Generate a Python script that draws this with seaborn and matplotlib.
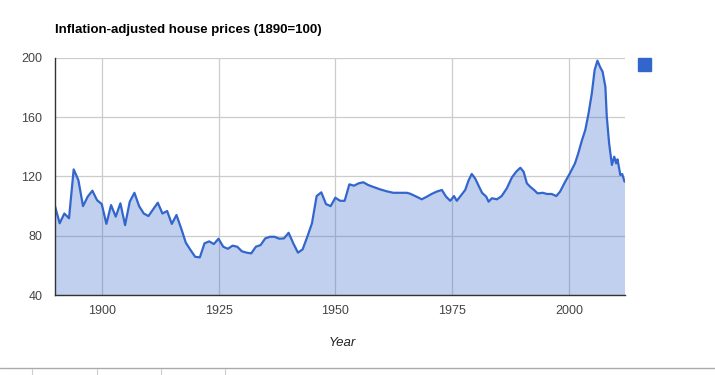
import matplotlib
matplotlib.use("Agg")
import matplotlib.pyplot as plt
import seaborn as sns
import pandas as pd
from matplotlib.patches import Rectangle
from matplotlib.lines import Line2D

years = [1890, 1891, 1892, 1893, 1894, 1895, 1896, 1897, 1898, 1899,
         1900, 1901, 1902, 1903, 1904, 1905, 1906, 1907, 1908, 1909,
         1910, 1911, 1912, 1913, 1914, 1915, 1916, 1917, 1918, 1919,
         1920, 1921, 1922, 1923, 1924, 1925, 1926, 1927, 1928, 1929,
         1930, 1931, 1932, 1933, 1934, 1935, 1936, 1937, 1938, 1939,
         1940, 1941, 1942, 1943, 1944, 1945, 1946, 1947, 1948, 1949,
         1950, 1951, 1952, 1953, 1954, 1955, 1956, 1957, 1958, 1959.6,
         1961, 1962.4, 1963.9, 1965.3, 1966, 1967.1, 1968.5, 1969.6, 1970.6, 1971.7,
         1972.8, 1973.7, 1974.6, 1975.4, 1976, 1976.7, 1977.8, 1978.5, 1979.2, 1979.9,
         1980.6, 1981.4, 1982.3, 1982.8, 1983.5, 1984.6, 1985.6, 1986.7, 1987.8, 1988.7,
         1989.6, 1990.3, 1991, 1991.7, 1992.5, 1993.3, 1994.4, 1995.3, 1996.3, 1997.3,
         1998.1, 1999.2, 2000.2, 2001.3, 2002, 2002.8, 2003.5, 2004.2, 2004.9, 2005.5,
         2006.1, 2006.7, 2007.2, 2007.8, 2008.1, 2008.6, 2009.2, 2009.7, 2010.1, 2010.4,
         2011, 2011.4, 2011.9]
prices = [100, 88.4, 95, 91.8, 124.8, 117.6, 100, 106.4, 110.4, 104,
          101.4, 88, 100.7, 92.9, 101.9, 87.2, 103, 109, 100, 95,
          93.3, 97.8, 102.3, 95, 96.7, 88, 94, 85, 75.3, 70.4,
          65.8, 65.4, 74.9, 76.2, 74.4, 78, 72.6, 71.2, 73.3, 72.6,
          69.5, 68.6, 68.1, 72.6, 73.7, 78.2, 79.3, 79.3, 78, 78.2,
          82, 74.9, 68.6, 70.8, 79.3, 88.4, 106.8, 109.3, 101.4, 100,
          105.7, 103.6, 103.6, 114.7, 113.8, 115.4, 116.1, 114.3, 113.1, 111.3,
          110, 109, 109, 109, 108.4, 106.8, 104.6, 106.4, 108.2, 109.8,
          110.9, 106.4, 103.6, 106.8, 103.6, 106.4, 110.9, 117.2, 121.7, 118.8,
          114.3, 109, 106.4, 103, 105.3, 104.6, 106.8, 112, 119.4, 123.2,
          125.9, 123.2, 115.4, 113.1, 111, 108.6, 109, 108.2, 108.2, 106.8,
          109.8, 116.5, 122.1, 128.9, 135.7, 144.6, 151.4, 162.6, 176.2, 191.9,
          198.2, 193.7, 190.8, 180.6, 160.4, 142.4, 127.8, 133.4, 128.9, 131.6,
          121, 121.7, 116.5]

x_ticks = [1900, 1925, 1950, 1975, 2000]
y_ticks = [40, 80, 120, 160, 200]
title = "Inflation-adjusted house prices (1890=100)"
x_label = "Year"

df = pd.DataFrame({"Year": years, "Price": prices})

sns.set_style("white")
plt.rcParams["font.family"] = ["Liberation Sans", "DejaVu Sans"]

W, H = 715, 375
fig = plt.figure(figsize=(W / 100, H / 100), dpi=100)
ax = fig.add_axes([55 / W, 1 - 295 / H, (625 - 55) / W, (295 - 58) / H])

LINE = "#3366cc"
ax.fill_between(df["Year"], df["Price"], 40, color=LINE, alpha=0.3, linewidth=0, zorder=2)
sns.lineplot(data=df, x="Year", y="Price", ax=ax, color=LINE, linewidth=1.6, zorder=3)

ax.set_xlim(1890, 2012)
ax.set_ylim(40, 200)
ax.set_xticks(x_ticks)
ax.set_yticks(y_ticks)
ax.set_xticklabels([str(t) for t in x_ticks])
ax.set_yticklabels([str(t) for t in y_ticks])
ax.grid(True, color="#cccccc", linewidth=0.9, zorder=1)
ax.set_axisbelow(True)
for s in ["top", "right"]:
    ax.spines[s].set_visible(False)
for s in ["left", "bottom"]:
    ax.spines[s].set_color("#333333")
    ax.spines[s].set_linewidth(1.0)
    ax.spines[s].set_zorder(4)
ax.tick_params(axis="both", length=0, labelsize=9, labelcolor="#444444")
ax.tick_params(axis="y", pad=9)
ax.tick_params(axis="x", pad=7)
ax.set_xlabel("")
ax.set_ylabel("")

fig.text(342 / W, 1 - 343 / H, x_label, ha="center", va="center",
         fontsize=9.5, style="italic", color="#222222")
fig.text(55 / W, 1 - 30 / H, title, ha="left", va="center",
         fontsize=9.5, fontweight="bold", color="#000000")

# legend swatch
fig.patches.append(Rectangle((638 / W, 1 - 71 / H), 13 / W, 13 / H,
                             transform=fig.transFigure, color=LINE, zorder=5))

# bottom page border
fig.lines.append(Line2D([0, 1], [1 - 368 / H, 1 - 368 / H], transform=fig.transFigure,
                        color="#aaaaaa", linewidth=1.0))
for xp in [32, 97, 161, 225]:
    fig.lines.append(Line2D([xp / W, xp / W], [0, 1 - 369 / H], transform=fig.transFigure,
                            color="#cccccc", linewidth=0.8))

fig.savefig("out.png", dpi=100)
